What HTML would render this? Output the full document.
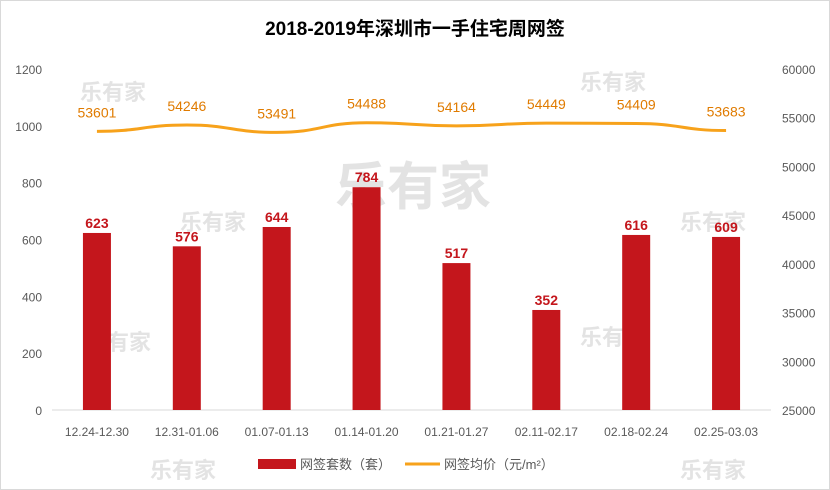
<!DOCTYPE html>
<html><head><meta charset="utf-8"><style>
body{margin:0;background:#fff;font-family:"Liberation Sans","Noto Sans CJK SC",sans-serif}
#c{position:absolute;left:0;top:0;width:830px;height:490px}
</style></head><body>
<svg id="c" width="830" height="490" xmlns="http://www.w3.org/2000/svg">
<rect x="0.5" y="0.5" width="829" height="489" fill="#fff" stroke="#d9d9d9"/>
<text x="415" y="35" text-anchor="middle" font-size="19" font-weight="bold" fill="#000">2018-2019年深圳市一手住宅周网签</text>
<g id="wm" fill="#e3e3e3" font-weight="bold">
<text x="335" y="205" font-size="52">乐有家</text>
<text x="80" y="100" font-size="22">乐有家</text>
<text x="580" y="90" font-size="22">乐有家</text>
<text x="180" y="230" font-size="22">乐有家</text>
<text x="680" y="230" font-size="22">乐有家</text>
<text x="85" y="350" font-size="22">乐有家</text>
<text x="580" y="345" font-size="22">乐有家</text>
<text x="150" y="478" font-size="22">乐有家</text>
<text x="680" y="478" font-size="22">乐有家</text>
</g>
<g id="axes"></g>
<g id="bars"></g>
<g id="line"></g>
<g>
<rect x="258" y="459" width="38" height="10" fill="#c4161c"/>
<text x="300" y="469" font-size="13" fill="#595959">网签套数（套）</text>
<line x1="405" y1="464" x2="440" y2="464" stroke="#f7a21b" stroke-width="3"/>
<text x="444" y="469" font-size="13" fill="#595959">网签均价（元/m²）</text>
</g>
</svg>
<script>
const categories=["12.24-12.30","12.31-01.06","01.07-01.13","01.14-01.20","01.21-01.27","02.11-02.17","02.18-02.24","02.25-03.03"];
const counts=[623,576,644,784,517,352,616,609];
const prices=[53601,54246,53491,54488,54164,54449,54409,53683];
const leftTicks=[0,200,400,600,800,1000,1200];
const rightTicks=[25000,30000,35000,40000,45000,50000,55000,60000];
const NS="http://www.w3.org/2000/svg";
const X0=52,X1=771,Y0=410,Y1=69;
const xc=i=>X0+(X1-X0)/categories.length*(i+0.5);
const yl=v=>Y0-(v/1200)*(Y0-Y1);
const yr=v=>Y0-((v-25000)/35000)*(Y0-Y1);
function mk(tag,attrs,parent,txt){const e=document.createElementNS(NS,tag);for(const k in attrs)e.setAttribute(k,attrs[k]);if(txt!==undefined)e.textContent=txt;parent.appendChild(e);return e;}
const ax=document.getElementById('axes');
let e=mk('line',{x1:X0,y1:Y0,x2:X1,y2:Y0,stroke:'#d9d9d9'},ax);


leftTicks.forEach(t=>{const el=mk('text',{x:42,y:yl(t)+5,'text-anchor':'end','font-size':12,fill:'#595959'},ax,t);

});
rightTicks.forEach(t=>{const el=mk('text',{x:782,y:yr(t)+5,'font-size':12,fill:'#595959'},ax,t);

});
categories.forEach((c,i)=>{const el=mk('text',{x:xc(i),y:436,'text-anchor':'middle','font-size':12,fill:'#595959'},ax,c);

});
const bg=document.getElementById('bars');
counts.forEach((v,i)=>{const r=mk('rect',{x:xc(i)-14,y:yl(v),width:28,height:Y0-yl(v),fill:'#c4161c'},bg);


const t=mk('text',{x:xc(i),y:yl(v)-5,'text-anchor':'middle','font-size':14,'font-weight':'bold',fill:'#c4161c'},bg,v);

});
const lg=document.getElementById('line');
const pts=prices.map((v,i)=>[xc(i),yr(v)]);
let d='M'+pts[0][0]+','+pts[0][1];
for(let i=1;i<pts.length;i++){const p=pts[i-1],q=pts[i],m=(q[0]-p[0])/2;d+=' C'+(p[0]+m)+','+p[1]+' '+(q[0]-m)+','+q[1]+' '+q[0]+','+q[1];}
const pl=mk('path',{d:d,fill:'none',stroke:'#f7a21b','stroke-width':3},lg);


prices.forEach((v,i)=>{const t=mk('text',{x:xc(i),y:yr(v)-14,'text-anchor':'middle','font-size':14,fill:'#e07b00'},lg,v);

});
</script>
</body></html>
